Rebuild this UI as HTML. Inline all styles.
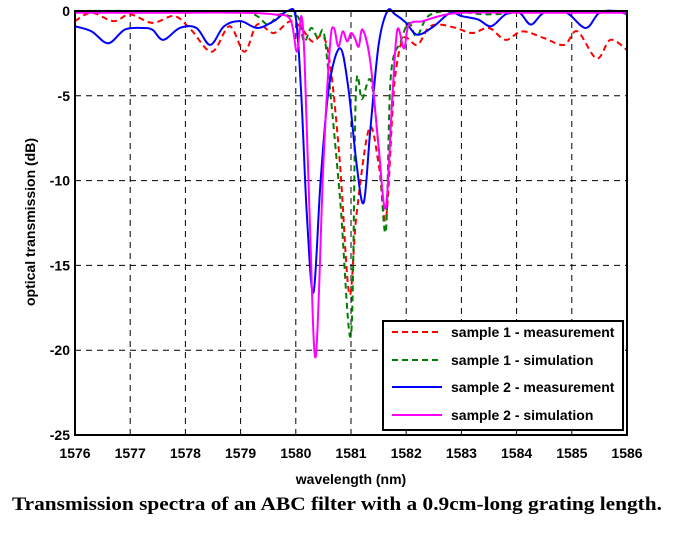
<!DOCTYPE html>
<html><head><meta charset="utf-8"><style>
body{margin:0;background:#fff;width:679px;height:548px;overflow:hidden}
svg{display:block}
.tk{font:bold 14px "Liberation Sans",Arial,sans-serif;fill:#000}
.lg{font:bold 14px "Liberation Sans",Arial,sans-serif;fill:#000}
</style></head><body>
<svg id="c" width="679" height="548" xmlns="http://www.w3.org/2000/svg">
<g id="grid"></g>
<g id="series"></g>
<rect x="75" y="11" width="552" height="424" fill="none" stroke="#000" stroke-width="2"/>
<g id="ticks"></g>
<text class="tk" x="351" y="484" text-anchor="middle">wavelength (nm)</text>
<text class="tk" transform="translate(35,222) rotate(-90)" text-anchor="middle">optical transmission (dB)</text>
<text x="12" y="510" textLength="650" lengthAdjust="spacingAndGlyphs" style="font:bold 19px 'Liberation Serif',serif">Transmission  spectra of an ABC filter with a 0.9cm-long grating length.</text>
<g>
<rect x="383" y="321" width="240" height="109" fill="#fff" stroke="#000" stroke-width="2"/>
<line x1="392" y1="332" x2="442" y2="332" stroke="#f00" stroke-width="2" stroke-dasharray="6,4"/>
<text class="lg" x="451" y="337">sample 1 - measurement</text>
<line x1="392" y1="360" x2="442" y2="360" stroke="#008000" stroke-width="2" stroke-dasharray="6,4"/>
<text class="lg" x="451" y="365">sample 1 - simulation</text>
<line x1="392" y1="387" x2="442" y2="387" stroke="#00f" stroke-width="2"/>
<text class="lg" x="451" y="392">sample 2 - measurement</text>
<line x1="392" y1="415" x2="442" y2="415" stroke="#f0f" stroke-width="2"/>
<text class="lg" x="451" y="420">sample 2 - simulation</text>
</g>
</svg>
<script>
const xTicks=[1576,1577,1578,1579,1580,1581,1582,1583,1584,1585,1586];
const yTicks=[0,-5,-10,-15,-20,-25];
const s1MeasX=[1576,1576.3,1576.7,1577,1577.4,1577.8,1578.1,1578.48,1578.8,1579.07,1579.3,1579.6,1579.9,1580.1,1580.3,1580.5,1580.64,1580.8,1580.97,1581.1,1581.33,1581.5,1581.63,1581.75,1581.81,1581.95,1582.2,1582.4,1582.6,1582.9,1583.2,1583.5,1583.8,1584.1,1584.5,1584.86,1585.1,1585.45,1585.7,1586];
const s1MeasY=[-0.6,-0.1,-0.6,-0.2,-0.7,-0.3,-1.1,-2.4,-0.9,-2.4,-0.8,-1.3,-0.6,-1.0,-1.8,-1.5,-3.6,-9,-16.7,-12,-6.9,-9,-12.3,-6,-3.6,-1.6,-2.0,-1.0,-0.8,-1.0,-1.3,-1.0,-1.7,-1.2,-1.6,-2.0,-1.2,-2.8,-1.7,-2.3];
const s1SimX=[1576,1577,1578,1579,1579.3,1579.5,1579.7,1579.9,1580.05,1580.15,1580.28,1580.4,1580.5,1580.59,1580.8,1581.0,1581.09,1581.2,1581.36,1581.5,1581.63,1581.72,1581.9,1582.05,1582.19,1582.4,1582.8,1583.5,1584.5,1585.5,1586];
const s1SimY=[0,0,-0.1,0,-0.3,-0.8,-0.2,-0.3,-0.4,-1.8,-1.0,-1.6,-1.2,-3.6,-11,-19.1,-4.7,-5.2,-4.1,-8,-13,-3.9,-1.8,-0.7,-1.5,-0.3,0,-0.2,0,-0.1,0];
const s2MeasX=[1576,1576.3,1576.6,1576.9,1577.2,1577.4,1577.6,1577.9,1578.2,1578.45,1578.7,1579.0,1579.3,1579.6,1579.85,1580.0,1580.1,1580.2,1580.32,1580.45,1580.6,1580.8,1580.95,1581.1,1581.23,1581.35,1581.5,1581.66,1581.8,1582.0,1582.2,1582.5,1582.8,1583.0,1583.3,1583.54,1583.8,1584.05,1584.26,1584.5,1584.9,1585.25,1585.5,1585.8,1586];
const s2MeasY=[-0.9,-1.2,-1.9,-1.1,-1.0,-1.1,-1.7,-1.0,-1.0,-2.0,-0.9,-0.6,-1.0,-0.6,0,-0.4,-5,-12,-16.6,-10,-4.5,-2.2,-4.5,-9,-11.3,-7,-2,0,-0.2,-0.7,-1.4,-0.9,-0.1,-0.3,-0.5,-0.9,-0.2,-0.1,-0.8,-0.1,-0.1,-1.0,-0.1,0,-0.2];
const s2SimX=[1576,1577,1578,1579,1579.6,1579.9,1580.02,1580.1,1580.16,1580.25,1580.36,1580.5,1580.62,1580.69,1580.77,1580.85,1580.93,1581.0,1581.07,1581.14,1581.21,1581.35,1581.5,1581.63,1581.75,1581.84,1581.96,1582.05,1582.3,1582.6,1583,1584,1585,1586];
const s2SimY=[-0.1,-0.1,-0.1,-0.1,-0.2,-0.5,-2.4,-0.3,-3,-12,-20.4,-9,-2,-1.0,-2.1,-1.2,-1.8,-1.3,-1.6,-2.1,-1.1,-3,-8,-11.6,-5,-1.1,-2.2,-0.8,-0.6,-0.3,-0.1,-0.1,-0.1,-0.1];

const L=75,R=627,T=11,B=435;
const sx=w=>L+(w-1576)/(1586-1576)*(R-L);
const sy=v=>T+(0-v)/25*(B-T);
const NS="http://www.w3.org/2000/svg";
const grid=document.getElementById('grid'),ticks=document.getElementById('ticks'),ser=document.getElementById('series');
xTicks.forEach(t=>{
  if(t>1576&&t<1586){const l=document.createElementNS(NS,'line');
  
  
  l.setAttribute('x1',sx(t));l.setAttribute('x2',sx(t));l.setAttribute('y1',T);l.setAttribute('y2',B);
  l.setAttribute('stroke','#000');l.setAttribute('stroke-dasharray','6,5');grid.appendChild(l);}
  const tx=document.createElementNS(NS,'text');
  
  
  tx.setAttribute('class','tk');tx.setAttribute('x',sx(t));tx.setAttribute('y',458);tx.setAttribute('text-anchor','middle');
  tx.textContent=t;ticks.appendChild(tx);
});
yTicks.forEach(t=>{
  if(t<0&&t>-25){const l=document.createElementNS(NS,'line');
  
  
  l.setAttribute('x1',L);l.setAttribute('x2',R);l.setAttribute('y1',sy(t));l.setAttribute('y2',sy(t));
  l.setAttribute('stroke','#000');l.setAttribute('stroke-dasharray','6,5');grid.appendChild(l);}
  const tx=document.createElementNS(NS,'text');
  
  
  tx.setAttribute('class','tk');tx.setAttribute('x',L-5);tx.setAttribute('y',sy(t)+5);tx.setAttribute('text-anchor','end');
  tx.textContent=t;ticks.appendChild(tx);
});
function path(xs,ys){
  const p=xs.map((x,i)=>[sx(x),sy(ys[i])]);
  let d='M'+p[0][0]+','+p[0][1];
  for(let i=0;i<p.length-1;i++){
    const p0=p[Math.max(0,i-1)],p1=p[i],p2=p[i+1],p3=p[Math.min(p.length-1,i+2)];
    d+=' C'+(p1[0]+(p2[0]-p0[0])/6)+','+(p1[1]+(p2[1]-p0[1])/6)+' '+(p2[0]-(p3[0]-p1[0])/6)+','+(p2[1]-(p3[1]-p1[1])/6)+' '+p2[0]+','+p2[1];
  }
  return d;
}
function add(name,xs,ys,col,dash){
  const e=document.createElementNS(NS,'path');
  
  
  e.setAttribute('d',path(xs,ys));e.setAttribute('fill','none');e.setAttribute('stroke',col);e.setAttribute('stroke-width','2');
  if(dash)e.setAttribute('stroke-dasharray','6,4');
  ser.appendChild(e);
}
add('series-sample1-measurement',s1MeasX,s1MeasY,'#f00',true);
add('series-sample1-simulation',s1SimX,s1SimY,'#008000',true);
add('series-sample2-measurement',s2MeasX,s2MeasY,'#00f',false);
add('series-sample2-simulation',s2SimX,s2SimY,'#f0f',false);
</script>
</body></html>
